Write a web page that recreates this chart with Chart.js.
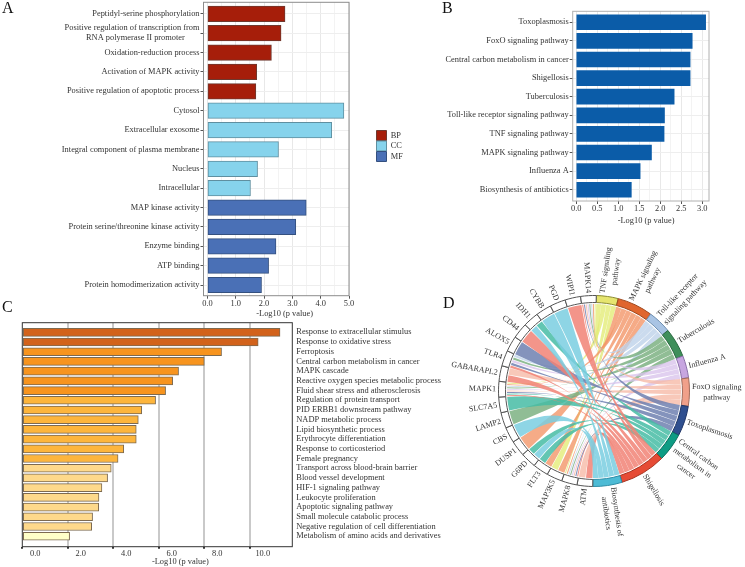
<!DOCTYPE html>
<html><head><meta charset="utf-8">
<script src="https://cdn.jsdelivr.net/npm/chart.js@4"></script>
<style>
html,body{margin:0;padding:0;background:#fff;width:745px;height:567px;overflow:hidden}
canvas{position:absolute}
.letter{position:absolute;font:16px 'Liberation Serif',serif;color:#111;line-height:16px}
</style></head><body>
<canvas id="chartA" width="420" height="320" style="left:0;top:0"></canvas>
<canvas id="chartB" width="325" height="235" style="left:420px;top:0"></canvas>
<canvas id="chartC" width="445" height="249" style="left:0;top:318px"></canvas>
<canvas id="chartD" width="300" height="300" style="left:444px;top:241px"></canvas>
<div class="letter" style="left:2px;top:0px">A</div>
<div class="letter" style="left:442px;top:0px">B</div>
<div class="letter" style="left:2px;top:299px">C</div>
<div class="letter" style="left:443px;top:295px">D</div>
<script>
// ---------- Panel A ----------
const termsBP = ['Peptidyl-serine phosphorylation',
  ['Positive regulation of transcription from','RNA polymerase II promoter\u00a0\u00a0\u00a0\u00a0\u00a0\u00a0\u00a0'],
  'Oxidation-reduction process','Activation of MAPK activity','Positive regulation of apoptotic process'];
const termsCC = ['Cytosol','Extracellular exosome','Integral component of plasma membrane','Nucleus','Intracellular'];
const termsMF = ['MAP kinase activity','Protein serine/threonine kinase activity','Enzyme binding','ATP binding','Protein homodimerization activity'];
const valuesBP = [2.74,2.60,2.26,1.74,1.71];
const valuesCC = [4.82,4.39,2.51,1.77,1.52];
const valuesMF = [3.49,3.12,2.42,2.16,1.91];
const ticksA = [0,0.5,1,1.5,2,2.5,3,3.5,4,4.5,5];
// ---------- Panel B ----------
const termsB = ['Toxoplasmosis','FoxO signaling pathway','Central carbon metabolism in cancer','Shigellosis','Tuberculosis','Toll-like receptor signaling pathway','TNF signaling pathway','MAPK signaling pathway','Influenza A','Biosynthesis of antibiotics'];
const valuesB = [3.08,2.76,2.71,2.71,2.33,2.10,2.09,1.79,1.52,1.31];
const ticksB = [0,0.25,0.5,0.75,1,1.25,1.5,1.75,2,2.25,2.5,2.75,3];
// ---------- Panel C ----------
const termsC = ['Response to extracellular stimulus','Response to oxidative stress','Ferroptosis','Central carbon metabolism in cancer','MAPK cascade','Reactive oxygen species metabolic process','Fluid shear stress and atherosclerosis','Regulation of protein transport','PID ERBB1 downstream pathway','NADP metabolic process','Lipid biosynthetic process','Erythrocyte differentiation','Response to corticosteriod','Female pregnancy','Transport across blood-brain barrier','Blood vessel development','HIF-1 signaling pathway','Leukocyte proliferation','Apoptotic signaling pathway','Small molecule catabolic process','Negative regulation of cell differentiation','Metabolism of amino acids and derivatives'];
const valuesC = [11.33,10.37,8.76,8.0,6.87,6.61,6.30,5.86,5.25,5.10,5.01,5.01,4.46,4.21,3.91,3.75,3.50,3.37,3.36,3.09,3.05,2.08];
const colorsC = ['#D2621B','#D2621B','#F7941E','#F7941E','#F7941E','#F7941E','#F7941E','#FDB53C','#FDB53C','#FDB53C','#FDB53C','#FDB53C','#FDB53C','#FDB53C','#FED98B','#FED98B','#FED98B','#FED98B','#FED98B','#FED98B','#FED98B','#FFFFC8'];
const ticksC = [0,2,4,6,8,10];
// ---------- Panel D ----------
const pathwayIds = ['TNF','MAPK','Toll','TB','Flu','FoxO','Toxo','CCM','Shig','Bio'];
const pathwayLabels = [['TNF signaling','pathway'],['MAPK signaling','pathway'],['Toll-like receptor','signaling pathway'],['Tuberculosis'],['Influenza A'],['FoxO signaling','pathway'],['Toxoplasmosis'],['Central carbon','metabolism in','cancer'],['Shigellosis'],['Biosynthesis of','antibiotics']];
const pathwayArcs = [13.3,21.6,14.3,17.8,13.6,17.2,18.3,17.3,28,17.8];
const pathwayFill = ['#E6E56F','#E0662E','#A9C4E4','#3F8F5A','#C7A6E0','#F0A08A','#2F4F8F','#0E9C84','#E64B35','#4DBBD5'];
const pathwayEdge = ['#8A8A30','#A04A20','#6F8FB0','#2A6A40','#8A70A8','#A06A5A','#1F3566','#0A6E5E','#A8321F','#2E8CA5'];
const ribbonColors = ['rgba(228,236,120,.8)','rgba(243,150,105,.8)','rgba(190,210,234,.8)','rgba(125,178,130,.85)','rgba(218,196,236,.8)','rgba(246,186,168,.8)','rgba(110,128,176,.85)','rgba(70,188,165,.85)','rgba(241,130,118,.85)','rgba(122,206,224,.85)'];
const genes = ['ATM','MAPK8','MAP3K5','FLT3','G6PD','DUSP1','CBS','LAMP2','SLC7A5','MAPK1','GABARAPL2','TLR4','ALOX5','CD44','IDH1','CYBB','PGD','WIPI1','MAPK14'];
const geneArcs = [9.5,9.5,9.5,9.5,9.5,9.5,9.5,9.5,9.5,9.5,9.5,9.5,9.5,9.5,9.5,9.5,9.5,9.5,9.5];
const geneLinks = [
 ['Shig','FoxO'],
 ['Shig','Toxo','FoxO','Flu','TB','Toll','MAPK','TNF'],
 ['MAPK','TNF'],
 ['MAPK','CCM'],
 ['Bio','CCM'],
 ['MAPK'],
 ['Bio'],
 ['TB'],
 ['CCM'],
 ['Shig','CCM','Toxo','FoxO','Flu','TB','Toll','MAPK','TNF'],
 ['Shig','FoxO'],
 ['Shig','Toxo','Flu','TB','Toll'],
 ['Toxo'],
 ['Shig'],
 ['Bio','CCM'],
 ['Bio'],
 ['Bio'],
 ['Shig'],
 ['Shig','Toxo','FoxO','Flu','TB','Toll','MAPK','TNF']
];

const SERIF = "'Liberation Serif','Times New Roman',serif";
const TXT = '#333333';
const FS = 8.4;
const frame = {id:'frame',afterDatasetsDraw(c,_,o){const a=c.chartArea,x=c.ctx;x.save();x.strokeStyle=o.color;x.lineWidth=o.width||1;x.strokeRect(a.left,a.top,a.right-a.left,a.bottom-a.top);x.restore();}};
const fixTicks = list => s => { s.ticks = list.map(v=>({value:v})); };
const idx = n => Array.from({length:n},(_,i)=>i);
const fmt = v => Number(v).toFixed(1);
const isMajor = (v,step) => Math.abs(v/step-Math.round(v/step))<1e-6;

function hbarBase(o){
  return {
    responsive:false,animation:false,indexAxis:'y',devicePixelRatio:1,
    layout:{padding:o.padding,autoPadding:false},
    plugins:{legend:{display:false},tooltip:{enabled:false},frame:{color:o.frame}},
    scales:{
      x:{type:'linear',min:o.xMin,max:o.xMax,afterBuildTicks:fixTicks(o.xTicks),
        afterFit:s=>{s.height=o.xH;s.paddingLeft=0;s.paddingRight=0;},
        border:{display:false},
        grid:{color:c=>isMajor(c.tick.value,o.major)?'#e8e8e8':'#f3f3f3',tickColor:c=>isMajor(c.tick.value,o.major)?'#555':'rgba(0,0,0,0)',tickLength:3},
        ticks:{autoSkip:false,maxRotation:0,padding:0,color:TXT,font:{family:SERIF,size:FS},callback:v=>isMajor(v,o.major)?fmt(v):''},
        title:{display:true,text:o.title,color:TXT,font:{family:SERIF,size:FS},padding:{top:0,bottom:0}}},
      y:{type:'linear',reverse:true,offset:false,min:o.yMin,max:o.yMax,afterBuildTicks:fixTicks(idx(o.labels.length)),
        afterFit:s=>{s.width=o.yW;s.paddingTop=0;s.paddingBottom=0;},
        border:{display:false},
        grid:{offset:false,color:'#eeeeee',tickColor:'#555',tickLength:3},
        ticks:{autoSkip:false,padding:1,color:TXT,font:{family:SERIF,size:FS},callback:v=>o.labels[v]}}
    }
  };
}
const pts = (vals,start=0)=>vals.map((v,i)=>({x:v,y:start+i}));

// Panel A
const labelsA = termsBP.concat(termsCC,termsMF);
const optA = hbarBase({padding:{left:0,right:71,top:2.3,bottom:1},frame:'#8c8c8c',xMin:-0.14,xMax:5,xTicks:ticksA,major:1,xH:23.3,yW:203.5,yMin:-0.594,yMax:14.55,labels:labelsA,title:'\u00a0\u00a0\u00a0\u00a0\u00a0\u00a0\u00a0\u00a0-Log10 (p value)'});
optA.plugins.legend={display:true,position:'chartArea',align:'start',labels:{boxWidth:10,boxHeight:10,padding:0.5,color:TXT,font:{family:SERIF,size:FS}}};
const placeLegend={id:'placeLegend',afterLayout(c){const l=c.legend;if(!l)return;l.left=376;l.right=l.left+l.width;l.top=130;l.bottom=l.top+l.height;}};
new Chart('chartA',{type:'bar',plugins:[frame,placeLegend],options:optA,data:{datasets:[
 {label:'BP',data:pts(valuesBP,0),backgroundColor:'#A61E0A',borderColor:'#6E3A30',borderWidth:1,borderSkipped:false,barThickness:15.5,grouped:false},
 {label:'CC',data:pts(valuesCC,5),backgroundColor:'#86D3EC',borderColor:'#5F8FA0',borderWidth:1,borderSkipped:false,barThickness:15.5,grouped:false},
 {label:'MF',data:pts(valuesMF,10),backgroundColor:'#4A70B6',borderColor:'#34507F',borderWidth:1,borderSkipped:false,barThickness:15.5,grouped:false}
]}});

// Panel B
const optB = hbarBase({padding:{left:0,right:36,top:11.3,bottom:9},frame:'#b0b0b0',xMin:-0.086,xMax:3.16,xTicks:ticksB,major:0.5,xH:25,yW:152.7,yMin:-0.59,yMax:9.606,labels:termsB,title:'\u00a0\u00a0\u00a0\u00a0\u00a0-Log10 (p value)'});
new Chart('chartB',{type:'bar',plugins:[frame],options:optB,data:{datasets:[
 {label:'KEGG',data:pts(valuesB),backgroundColor:'#0B5CA8',barThickness:15}
]}});

// Panel C
const optC = hbarBase({padding:{left:22.3,right:0,top:4.7,bottom:0},frame:'#333333',xMin:0,xMax:11.87,xTicks:ticksC,major:2,xH:20.3,yW:152.7,yMin:-0.989,yMax:22.08,labels:termsC,title:'\u00a0'.repeat(22)+'-Log10 (p value)'});
optC.scales.y.position='right';
optC.scales.y.grid={display:false,drawTicks:false,tickLength:0,offset:false};
optC.scales.y.ticks.padding=4;
optC.scales.x.grid={color:c=>c.tick.value===0?'rgba(0,0,0,0)':'#c9c9c9',lineWidth:2,tickColor:'#333',tickLength:2};
optC.scales.x.ticks.labelOffset=13;
new Chart('chartC',{type:'bar',plugins:[frame],options:optC,data:{datasets:[
 {label:'Enrichment',data:pts(valuesC),backgroundColor:colorsC,borderColor:'#7d6a50',borderWidth:1,borderSkipped:false,barThickness:8}
]}});

// Panel D
const ribbons = {id:'ribbons',beforeDatasetsDraw(c){
  const arcs=c.getDatasetMeta(0).data, ctx=c.ctx, np=pathwayIds.length;
  const cx=arcs[0].x, cy=arcs[0].y, R=87;
  const pathwayUsers=pathwayIds.map(()=>[]);
  geneLinks.forEach((l,g)=>l.forEach(p=>pathwayUsers[pathwayIds.indexOf(p)].push(g)));
  pathwayUsers.forEach(u=>u.sort((a,b)=>b-a));
  geneLinks.forEach((links,g)=>{
    const ga=arcs[np+g], gw=(ga.endAngle-ga.startAngle)/links.length;
    links.forEach((pid,k)=>{
      const p=pathwayIds.indexOf(pid), pa=arcs[p], n=pathwayUsers[p].length, j=pathwayUsers[p].indexOf(g);
      const pw=(pa.endAngle-pa.startAngle)/n, ins=0.004, insP=0.001;
      const a0=ga.startAngle+gw*k+ins, a1=ga.startAngle+gw*(k+1)-ins;
      const b0=pa.startAngle+pw*j+insP, b1=pa.startAngle+pw*(j+1)-insP;
      ctx.beginPath();
      ctx.arc(cx,cy,R,a0,a1);
      ctx.quadraticCurveTo(cx,cy,cx+R*Math.cos(b1),cy+R*Math.sin(b1));
      ctx.arc(cx,cy,R,b1,b0,true);
      ctx.quadraticCurveTo(cx,cy,cx+R*Math.cos(a0),cy+R*Math.sin(a0));
      ctx.closePath();
      ctx.fillStyle=ribbonColors[p];
      ctx.fill();
    });
  });
},afterDatasetsDraw(c){
  const arcs=c.getDatasetMeta(0).data, ctx=c.ctx, cx=arcs[0].x, cy=arcs[0].y, r0=98;
  const all=pathwayLabels.concat(genes.map(g=>[g]));
  ctx.save();
  ctx.font="8px "+SERIF; ctx.fillStyle=TXT; ctx.textBaseline='middle'; ctx.textAlign='center';
  all.forEach((lines,i)=>{
    const mid=(arcs[i].startAngle+arcs[i].endAngle)/2;
    const w=Math.max(...lines.map(t=>ctx.measureText(t).width));
    const rr=r0+w/2;
    const left=Math.cos(mid)<0;
    ctx.save();
    ctx.translate(cx+rr*Math.cos(mid),cy+rr*Math.sin(mid));
    ctx.rotate(left?mid+Math.PI:mid);
    const lh=10.5;
    lines.forEach((t,k)=>ctx.fillText(t,0,(k-(lines.length-1)/2)*lh));
    ctx.restore();
  });
  ctx.restore();
}};
new Chart('chartD',{type:'doughnut',plugins:[ribbons],data:{labels:pathwayIds.concat(genes),datasets:[{
  data:pathwayArcs.concat(geneArcs),
  backgroundColor:pathwayFill.concat(genes.map(()=>'#ffffff')),
  borderColor:pathwayEdge.concat(genes.map(()=>'#555555')),
  borderWidth:1,spacing:1,borderAlign:'center'
}]},options:{responsive:false,animation:false,devicePixelRatio:1,rotation:1.4,radius:95,cutout:'92.6%',layout:{padding:0},plugins:{legend:{display:false},tooltip:{enabled:false}}}});
</script>
</body></html>
